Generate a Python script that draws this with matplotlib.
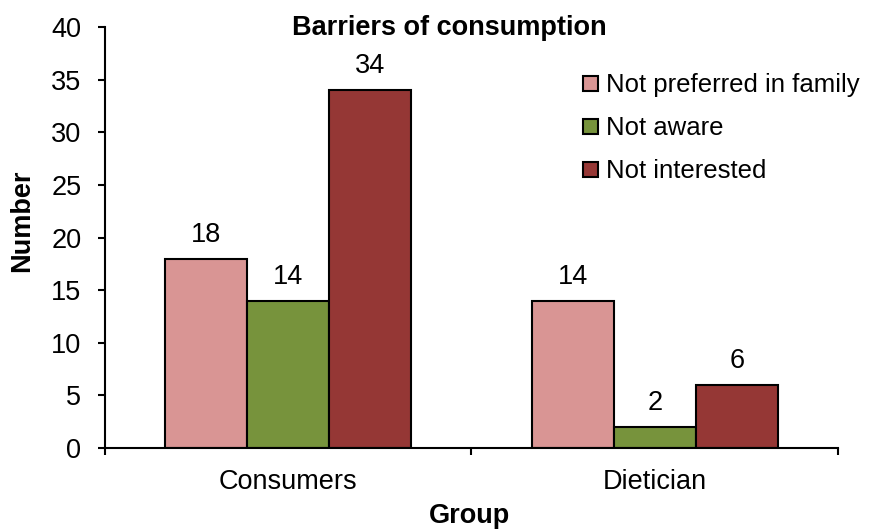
import matplotlib.pyplot as plt
import numpy as np

groups = ["Consumers", "Dietician"]
series = ["Not preferred in family", "Not aware", "Not interested"]
not_preferred = [18, 14]
not_aware = [14, 2]
not_interested = [34, 6]
colors = ["#D99594", "#77933C", "#953735"]

plt.rcParams['font.family'] = ['Liberation Sans', 'DejaVu Sans']
fs = 19.5

fig = plt.figure(figsize=(8.7, 5.3), dpi=100)
ax = fig.add_axes([105 / 870, 1 - 448 / 530, 733 / 870, 421 / 530])

x = np.arange(len(groups)) + 0.5
width = 0.224
values = [not_preferred, not_aware, not_interested]
for i, (name, vals, c) in enumerate(zip(series, values, colors)):
    bars = ax.bar(x + (i - 1) * width, vals, width, color=c, edgecolor='black',
                  linewidth=1.5, label=name)
    for b, v in zip(bars, vals):
        ax.annotate(str(v), (b.get_x() + b.get_width() / 2, v), xytext=(0, 12),
                    textcoords='offset points', ha='center', va='baseline', fontsize=fs)

ax.set_xlim(0, 2)
ax.set_ylim(0, 40)
ax.set_yticks(range(0, 41, 5))
ax.set_xticks([0, 1, 2])
ax.set_xticklabels([])
ax.set_xticks(x, minor=True)
ax.set_xticklabels(groups, minor=True)
ax.tick_params(axis='x', which='minor', length=0, labelsize=fs, pad=15)
ax.tick_params(axis='x', which='major', length=5, width=1.5, direction='out')
ax.tick_params(axis='y', labelsize=fs, length=5, width=1.5, direction='out', pad=12)
for s in ['top', 'right']:
    ax.spines[s].set_visible(False)
for s in ['left', 'bottom']:
    ax.spines[s].set_linewidth(1.5)

fig.text(449 / 870, 1 - 28 / 530, "Barriers of consumption", ha='center', va='center',
         fontsize=fs, fontweight='bold')
fig.text(22 / 870, 1 - 221 / 530, "Number", ha='center', va='center', rotation=90,
         fontsize=fs, fontweight='bold')
fig.text(470 / 870, 1 - 523 / 530, "Group", ha='center', va='baseline',
         fontsize=fs, fontweight='bold')

ax.legend(loc='upper left', bbox_to_anchor=(573 / 870, 1 - 63 / 530),
          bbox_transform=fig.transFigure, frameon=False, fontsize=18.5,
          handlelength=0.58, handleheight=0.52, handletextpad=0.3, labelspacing=0.74,
          borderaxespad=0)

fig.savefig("out.png", dpi=100)
